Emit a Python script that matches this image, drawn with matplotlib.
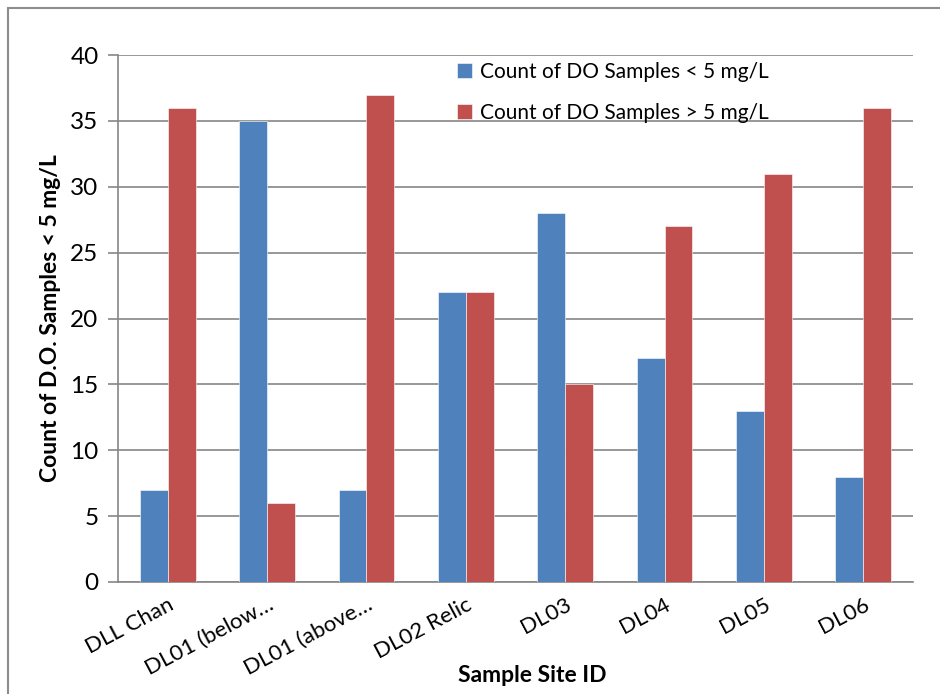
import numpy as np
import matplotlib.pyplot as plt
from matplotlib.patches import Rectangle

plt.rcParams['font.family'] = ['Lato', 'DejaVu Sans']

sites = ["DLL Chan", "DL01 (below\u2026", "DL01 (above\u2026", "DL02 Relic",
         "DL03", "DL04", "DL05", "DL06"]
below_5 = [7, 35, 7, 22, 28, 17, 13, 8]
above_5 = [36, 6, 37, 22, 15, 27, 31, 36]

blue = "#4F81BD"
red = "#C0504D"
grid_gray = "#868686"

fig = plt.figure(figsize=(9.4, 6.94), dpi=100)
ax = fig.add_axes([118 / 940, 1 - 582 / 694, (913 - 118) / 940, (582 - 55) / 694])

x = np.arange(len(sites))
w = 0.28
ax.bar(x - w / 2, below_5, w, color=blue, edgecolor="white", linewidth=0.4,
       label="Count of DO Samples < 5 mg/L", zorder=3)
ax.bar(x + w / 2, above_5, w, color=red, edgecolor="white", linewidth=0.4,
       label="Count of DO Samples > 5 mg/L", zorder=3)

ax.set_xlim(-0.5, len(sites) - 0.5)
ax.set_ylim(0, 40)
ax.set_yticks(range(0, 41, 5))
ax.yaxis.grid(True, color=grid_gray, linewidth=1.2, zorder=0)
ax.set_axisbelow(True)

for side in ("top", "right"):
    ax.spines[side].set_visible(False)
for side in ("left", "bottom"):
    ax.spines[side].set_color(grid_gray)
    ax.spines[side].set_linewidth(1.2)

ax.tick_params(axis="y", length=7, width=1.2, color=grid_gray, labelsize=17.5, pad=7)
ax.tick_params(axis="x", length=0, labelsize=16, pad=9)
ax.set_xticks(x)
ax.set_xticklabels(sites, rotation=28, ha="right", rotation_mode="anchor")

ax.set_ylabel("Count of D.O. Samples < 5 mg/L", fontsize=16.5, fontweight="bold", labelpad=7)
fig.text(532 / 940, 1 - 676 / 694, "Sample Site ID", fontsize=16.5,
         fontweight="bold", ha="center", va="center")

ax.legend(loc="upper left", bbox_to_anchor=(438 / 940, 1 - 43 / 694),
          bbox_transform=fig.transFigure, frameon=False, fontsize=15,
          handlelength=0.75, handleheight=0.75, handletextpad=0.35,
          labelspacing=1.0)

# outer chart border
fig.patches.append(Rectangle((8 / 940, -0.1), 1.2, 1 - 8 / 694 + 0.1,
                             transform=fig.transFigure, fill=False,
                             edgecolor="#8C8C8C", linewidth=1.5, zorder=0))

fig.savefig("out.png", dpi=100)
